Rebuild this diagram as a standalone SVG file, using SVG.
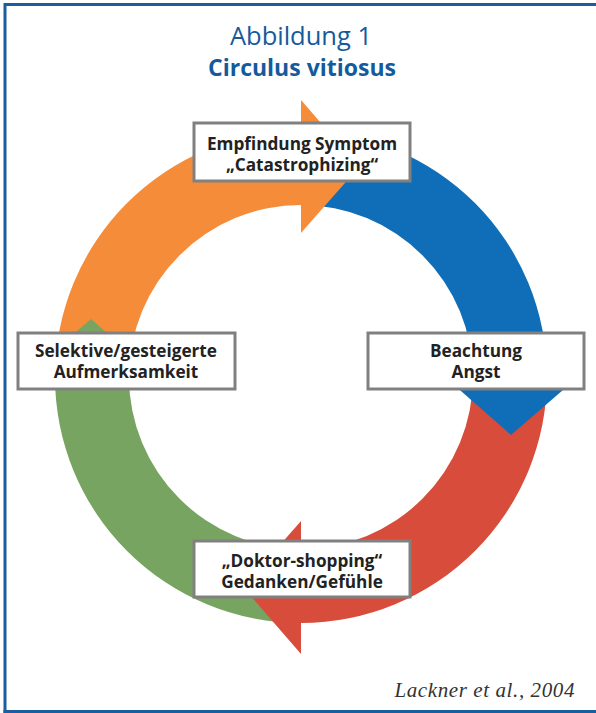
<svg xmlns="http://www.w3.org/2000/svg" width="596" height="713" viewBox="0 0 596 713">
<style>
.frame{stroke:#1b5e9f;stroke-width:3;fill:none}
.box{fill:#ffffff;stroke:#808080;stroke-width:3}
.lbl{font-family:"Open Sans","Noto Sans",sans-serif;font-weight:bold;font-size:17.2px;fill:#222222;text-anchor:middle}
.t1{font-family:"Open Sans","Noto Sans",sans-serif;font-size:25.5px;fill:#155a9c;text-anchor:middle}
.t2{font-family:"Open Sans","Noto Sans",sans-serif;font-weight:bold;font-size:23px;fill:#155a9c;text-anchor:middle}
.cite{font-family:"Liberation Serif",serif;font-style:italic;font-size:21px;letter-spacing:0.6px;fill:#333333;text-anchor:end}
</style>
<rect x="0" y="0" width="596" height="713" fill="#ffffff"/>
<g id="frame">
<line class="frame" x1="5" y1="4.5" x2="596" y2="4.5"/>
<line class="frame" x1="5" y1="3" x2="5" y2="713"/>
<line class="frame" x1="3.5" y1="711.5" x2="596" y2="711.5"/>
</g>
<g id="title">
<text class="t1" x="301" y="45">Abbildung 1</text>
<text class="t2" x="302" y="76">Circulus vitiosus</text>
</g>
<g id="connectors">
<path id="orange-body" fill="#f58c3a" d="M55,377 A246,246 0 0 1 301,131 L301,205 A172,172 0 0 0 129,377 Z"/>
<path id="blue-body" fill="#0f6eb7" d="M301,131 A246,246 0 0 1 547,377 L473,377 A172,172 0 0 0 301,205 Z"/>
<path id="red-body" fill="#d84c3c" d="M547,377 A246,246 0 0 1 301,623 L301,549 A172,172 0 0 0 473,377 Z"/>
<path id="green-body" fill="#78a462" d="M301,623 A246,246 0 0 1 55,377 L129,377 A172,172 0 0 0 301,549 Z"/>
<polygon id="orange-head" fill="#f58c3a" points="301,100 301,233 359,167"/>
<polygon id="blue-head" fill="#0f6eb7" points="578,377 445,377 511,435"/>
<polygon id="red-head" fill="#d84c3c" points="301,654 301,521 243,587"/>
<polygon id="green-head" fill="#78a462" points="24,377 157,377 91,319"/>
</g>
<g id="node-empfindung">
<rect class="box" x="194" y="123" width="216" height="58"/>
<text class="lbl" x="302" y="149.5">Empfindung Symptom</text>
<text class="lbl" x="302" y="171">„Catastrophizing“</text>
</g>
<g id="node-beachtung">
<rect class="box" x="368" y="333" width="216" height="56"/>
<text class="lbl" x="476" y="356.5">Beachtung</text>
<text class="lbl" x="476" y="378">Angst</text>
</g>
<g id="node-doktor">
<rect class="box" x="194" y="541" width="216" height="56"/>
<text class="lbl" x="302" y="566.5">„Doktor-shopping“</text>
<text class="lbl" x="302" y="588">Gedanken/Gefühle</text>
</g>
<g id="node-selektive">
<rect class="box" x="18" y="333" width="217" height="56"/>
<text class="lbl" x="126" y="356.5">Selektive/gesteigerte</text>
<text class="lbl" x="126" y="378">Aufmerksamkeit</text>
</g>
<text class="cite" x="575" y="697">Lackner et al., 2004</text>
</svg>
